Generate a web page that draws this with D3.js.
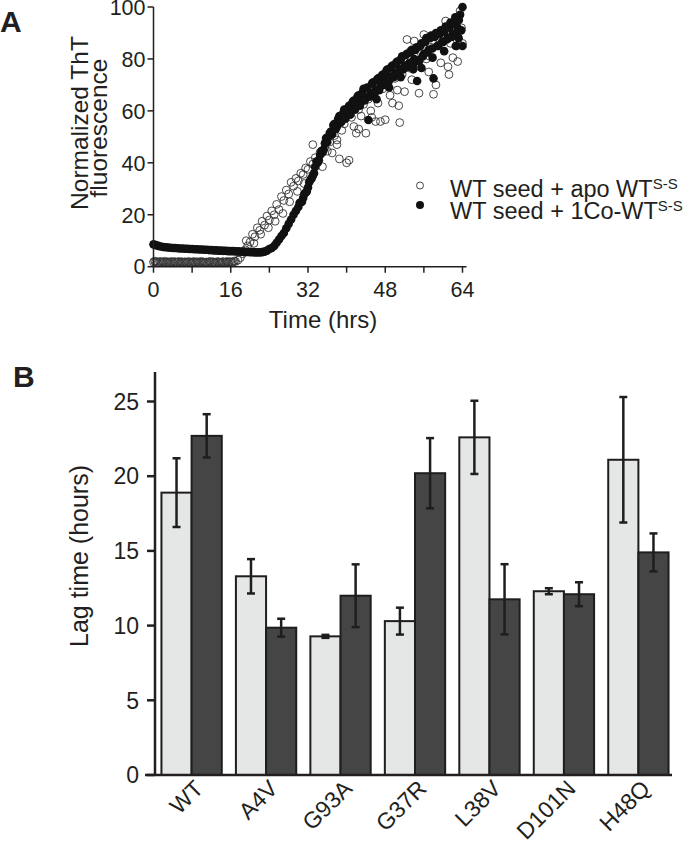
<!DOCTYPE html>
<html><head><meta charset="utf-8">
<script src="https://cdn.jsdelivr.net/npm/d3@7"></script>
<style>
body{margin:0;background:#fff;}
svg text{font-family:"Liberation Sans",Arial,Helvetica,sans-serif;fill:#231f20;}
</style></head>
<body><svg id="c" width="693" height="855"></svg>
<script>
// ---------- Panel A data: [time (hrs), normalized ThT] ----------
const apoSeries = [
[0,1.8],[0.5,2.0],[1,1.7],[1.5,1.9],[2,1.8],[2.5,1.6],[3,1.9],[3.5,1.8],[4,1.7],[4.5,1.9],[5,1.8],[5.5,1.6],[6,1.8],[6.5,1.9],[7,1.7],[7.5,1.8],[8,1.6],[8.5,1.8],[9,1.9],[9.5,1.7],[10,1.8],[10.5,1.6],[11,1.8],[11.5,1.9],[12,1.7],[12.5,1.8],[13,1.6],[13.5,1.8],[14,1.7],[14.5,1.9],[15,1.8],[15.5,1.7],[16,1.9],[16.5,1.8],[17,2.0],
[0.25,2.1],[0.75,1.6],[1.25,2.0],[1.75,1.7],[2.25,2.1],[2.75,1.8],[3.25,1.6],[3.75,2.0],[4.25,1.9],[4.75,1.6],[5.25,2.0],[5.75,1.9],[6.25,1.6],[6.75,1.7],[7.25,2.0],[7.75,1.6],[8.25,2.0],[8.75,1.7],[9.25,1.6],[9.75,2.0],[10.25,1.9],[10.75,1.7],[11.25,1.6],[11.75,2.0],[12.25,1.9],[12.75,1.6],[13.25,2.0],[13.75,1.7],[14.25,1.9],[14.75,1.6],[15.25,2.0],[15.75,1.9],[16.25,1.7],[16.75,2.2],
[17.5,2.5],[18,3.5],[18.5,5.0],[19,6.5],[19.5,8.0],[20,9.5],[20.5,12.5],[21,11.5],[21.5,15.0],[22,14.0],[22.5,17.5],[23,16.0],[23.5,19.5],[24,18.0],[24.5,21.5],[25,20.0],[25.5,24.0],[26,22.0],[26.5,27.0],[27,25.5],[27.5,29.5],[28,28.0],[28.5,32.5],[29,31.0],[29.5,34.0],[30,33.0],[30.5,36.0],[31,35.5],[31.5,38.0],[32,37.5],[32.5,40.5],[33,39.5],[33.5,42.0],[34,40.5],[34.5,44.0],[35,38.5],[35.5,46.0],[36,44.5],[36.5,48.0],[37,43.8],[37.5,50.5],[38,48.8],[38.5,41.5],[39,52.5],[39.5,55.0],[40,40.0],[40.5,41.0],[41,57.5],[41.5,54.0],[42,51.4],[42.5,60.5],[43,58.0],[43.5,62.5],[44,51.4],[44.5,64.5],[45,60.0],[45.5,66.5],[46,55.9],[46.5,63.0],[47,55.9],[47.5,68.5],[48,56.6],[48.5,70.5],[49,66.0],[49.5,63.0],[50,72.5],[50.5,68.0],[51,55.5],[51.5,74.0],[52,67.4],[52.5,87.5],[53,76.5],[53.5,72.0],[54,86.9],[54.5,78.5],[55,66.8],[55.5,82.0],[56,89.4],[56.5,80.0],[57,75.0],[57.5,84.5],[58,66.4],[58.5,70.0],[59,88.0],[59.5,78.5],[60,91.0],[60.5,94.6],[61,77.0],[61.5,86.0],[62,80.5],[62.5,92.5],[63,79.0],[63.5,98.5],[64,86.0],
[19.2,10.0],[20.8,9.0],[22.2,12.5],[23.8,15.0],[25.2,17.5],[26.8,20.5],[28.2,25.0],[29.8,29.0],[31.2,32.0],
[33,47.0],[38,47.0],[42.5,53.0],[45.2,57.5],[50.8,62.0],[53.2,83.0],[57.2,81.0],[61.2,74.0],[62.8,85.0],[63.8,92.0]
];
const coSeries = [
[0,8.6],[0.5,8.3],[1,8.0],[1.5,7.8],[2,7.6],[2.5,7.5],[3,7.4],[3.5,7.3],[4,7.2],[4.5,7.2],[5,7.1],[5.5,7.0],[6,7.0],[6.5,6.9],[7,6.9],[7.5,6.8],[8,6.8],[8.5,6.7],[9,6.7],[9.5,6.6],[10,6.6],[10.5,6.5],[11,6.5],[11.5,6.4],[12,6.4],[12.5,6.3],[13,6.3],[13.5,6.2],[14,6.2],[14.5,6.1],[15,6.1],[15.5,6.0],[16,6.0],
[16.5,6.0],[17,5.9],[17.5,5.9],[18,5.8],[18.5,5.8],[19,5.7],[19.5,5.7],[20,5.6],[20.5,5.6],[21,5.5],[21.5,5.5],[22,5.5],[22.5,5.6],[23,5.8],[23.5,6.2],[24,6.8],
[24.5,7.2],[25,8.0],[25.5,9.2],[26,10.5],[26.5,11.8],[27,13.0],[27.5,14.8],[28,16.5],[28.5,18.2],[29,20.0],[29.5,21.5],[30,23.0],[30.5,24.8],[31,26.5],[31.5,28.5],[32,30.5],[32.5,33.5],[33,35.0],[33.5,38.5],[34,40.0],[34.5,43.0],[35,44.0],[35.5,47.5],[36,48.0],[36.5,51.5],[37,51.0],[37.5,55.0],[38,54.0],[38.5,58.0],[39,56.0],[39.5,60.5],[40,58.0],[40.5,62.0],[41,60.0],[41.5,64.0],[42,61.5],[42.5,66.0],[43,63.5],[43.5,68.5],[44,65.0],[44.5,56.5],[45,67.0],[45.5,71.0],[46,68.0],[46.5,72.5],[47,69.5],[47.5,74.0],[48,71.5],[48.5,76.0],[49,73.0],[49.5,77.5],[50,74.5],[50.5,79.0],[51,76.0],[51.5,81.0],[52,77.5],[52.5,82.0],[53,78.5],[53.5,83.5],[54,80.0],[54.5,84.5],[55,79.0],[55.5,86.0],[56,82.0],[56.5,88.0],[57,83.5],[57.5,89.0],[58,72.5],[58.5,90.0],[59,85.0],[59.5,91.0],[60,86.5],[60.5,92.5],[61,88.0],[61.5,94.0],[62,89.5],[62.5,96.0],[63,92.0],[63.5,97.0],[64,100.0],
[30.25,24.5],[30.75,25.0],[31.25,28.0],[31.75,29.0],[32.25,32.5],[32.75,34.0],[33.25,36.0],[33.75,40.5],[34.25,41.0],[34.75,44.5],[35.25,45.0],[35.75,49.5],[36.25,50.0],[36.75,52.0],[37.25,54.5],[37.75,53.0],[38.25,57.0],[38.75,55.5],[39.25,59.0],[39.75,57.0],[40.25,61.0],[40.75,58.5],[41.25,63.5],[41.75,60.5],[42.25,65.5],[42.75,62.0],[43.25,67.0],[43.75,64.0],[44.25,69.0],[44.75,65.5],[45.25,70.5],[45.75,66.5],[46.25,72.0],[46.75,68.0],[47.25,73.5],[47.75,70.0],[48.25,75.5],[48.75,71.5],[49.25,77.0],[49.75,73.0],[50.25,78.5],[50.75,74.5],[51.25,80.0],[51.75,76.0],[52.25,81.5],[52.75,77.0],[53.25,82.5],[53.75,78.0],[54.25,83.5],[54.75,79.5],[55.25,85.0],[55.75,81.0],[56.25,86.5],[56.75,82.5],[57.25,88.0],[57.75,84.0],[58.25,88.5],[58.75,85.0],[59.25,89.5],[59.75,86.5],[60.25,90.5],[60.75,87.5],[61.25,92.0],[61.75,88.5],[62.25,93.5],[62.75,90.0],[63.25,95.0],[63.75,91.0],
[46.2,64.5],[48.8,69.0],[51.2,73.0],[53.8,76.0],[54.6,71.5],[55.5,76.5],[57.8,80.5],[60.2,83.0],[62.6,85.0],[63.2,88.0],[64,85.0]
];
const xTicksA = [0,16,32,48,64];
const xMinorA = [8,24,40,56];
const yTicksA = [0,20,40,60,80,100];

// ---------- Panel B data ----------
const mutants = ["WT","A4V","G93A","G37R","L38V","D101N","H48Q"];
const apoLag = [18.9,13.3,9.28,10.3,22.6,12.3,21.1];
const apoErr = [2.3,1.15,0.1,0.9,2.45,0.2,4.2];
const coLag = [22.7,9.86,12.0,20.2,11.76,12.1,14.9];
const coErr = [1.45,0.6,2.1,2.35,2.35,0.8,1.27];
const yTicksB = [0,5,10,15,20,25];

const svg = d3.select("#c");
const ink = "#231f20";

// ================= Panel A =================
const xA = d3.scaleLinear().domain([0,64]).range([153.5,462.5]);
const yA = d3.scaleLinear().domain([0,100]).range([266.7,7]);

const gA = svg.append("g");
gA.append("g").selectAll("circle").data(apoSeries).join("circle")
  .attr("cx",d=>xA(d[0])).attr("cy",d=>yA(d[1])).attr("r",3.9)
  .attr("fill","none").attr("stroke","#333").attr("stroke-width",0.9);
gA.append("g").selectAll("circle").data(coSeries).join("circle")
  .attr("cx",d=>xA(d[0])).attr("cy",d=>yA(d[1])).attr("r",4.3)
  .attr("fill","#111").attr("stroke","none");

const axA = gA.append("g").attr("stroke",ink).attr("stroke-width",1.5).attr("fill","none");
axA.append("line").attr("x1",xA(0)).attr("x2",xA(0)).attr("y1",yA(100)).attr("y2",yA(0));
axA.append("line").attr("x1",xA(0)).attr("x2",xA(64)+4).attr("y1",yA(0)).attr("y2",yA(0));
yTicksA.forEach(v=>{
  axA.append("line").attr("x1",xA(0)-6).attr("x2",xA(0)).attr("y1",yA(v)).attr("y2",yA(v));
});
xTicksA.concat(xMinorA).forEach(v=>{
  axA.append("line").attr("x1",xA(v)).attr("x2",xA(v)).attr("y1",yA(0)).attr("y2",yA(0)+6);
});
gA.selectAll("text.yt").data(yTicksA).join("text").attr("class","yt")
  .attr("x",xA(0)-8).attr("y",d=>yA(d)).attr("dy","0.36em")
  .attr("text-anchor","end").attr("font-size",21.5).text(d=>d);
gA.selectAll("text.xt").data(xTicksA).join("text").attr("class","xt")
  .attr("x",d=>xA(d)).attr("y",297)
  .attr("text-anchor","middle").attr("font-size",21.5).text(d=>d);
gA.append("text").attr("x",323).attr("y",328).attr("text-anchor","middle")
  .attr("font-size",24).text("Time (hrs)");
gA.append("text").attr("transform","translate(88,123) rotate(-90)")
  .attr("text-anchor","middle").attr("font-size",24.5).text("Normalized ThT");
gA.append("text").attr("transform","translate(107,128) rotate(-90)")
  .attr("text-anchor","middle").attr("font-size",24.5).text("fluorescence");

// legend
gA.append("circle").attr("cx",420).attr("cy",185.5).attr("r",3.5)
  .attr("fill","none").attr("stroke","#333").attr("stroke-width",0.9);
gA.append("circle").attr("cx",420).attr("cy",205).attr("r",4)
  .attr("fill","#111");
const l1 = gA.append("text").attr("x",450).attr("y",196.5).attr("font-size",23.5);
l1.append("tspan").text("WT seed + apo WT");
l1.append("tspan").attr("font-size",15).attr("dy",-8).text("S-S");
const l2 = gA.append("text").attr("x",450).attr("y",219).attr("font-size",23.5);
l2.append("tspan").text("WT seed + 1Co-WT");
l2.append("tspan").attr("font-size",15).attr("dy",-8).text("S-S");

svg.append("text").attr("x",0).attr("y",32).attr("font-size",30).attr("font-weight","bold").text("A");

// ================= Panel B =================
const yB = d3.scaleLinear().domain([0,25]).range([775,401.5]);
const xB = d3.scaleBand().domain(mutants).range([154,676]).paddingInner(0.19).paddingOuter(0.1);
const sub = d3.scaleBand().domain(["apo","co"]).range([0,xB.bandwidth()]);
const barsData = mutants.flatMap((m,i)=>[
  {m, k:"apo", v:apoLag[i], e:apoErr[i]},
  {m, k:"co", v:coLag[i], e:coErr[i]}
]);
const gB = svg.append("g");
gB.selectAll("rect").data(barsData).join("rect")
  .attr("x",d=>xB(d.m)+sub(d.k)).attr("width",sub.bandwidth())
  .attr("y",d=>yB(d.v)).attr("height",d=>yB(0)-yB(d.v))
  .attr("fill",d=>d.k==="apo"?"#e5e6e6":"#454545")
  .attr("stroke","#1e1e1e").attr("stroke-width",2);
const eb = gB.append("g").attr("stroke","#1e1e1e").attr("stroke-width",2.5);
barsData.forEach(d=>{
  const cx = xB(d.m)+sub(d.k)+sub.bandwidth()/2;
  eb.append("line").attr("x1",cx).attr("x2",cx).attr("y1",yB(d.v+d.e)).attr("y2",yB(d.v-d.e));
  eb.append("line").attr("x1",cx-4).attr("x2",cx+4).attr("y1",yB(d.v+d.e)).attr("y2",yB(d.v+d.e));
  eb.append("line").attr("x1",cx-4).attr("x2",cx+4).attr("y1",yB(d.v-d.e)).attr("y2",yB(d.v-d.e));
});
const axB = gB.append("g").attr("stroke",ink).attr("stroke-width",2.5);
axB.append("line").attr("x1",155).attr("x2",155).attr("y1",372).attr("y2",775);
axB.append("line").attr("x1",145).attr("x2",672).attr("y1",775).attr("y2",775);
yTicksB.forEach(v=>{
  axB.append("line").attr("x1",147).attr("x2",155).attr("y1",yB(v)).attr("y2",yB(v));
});
gB.selectAll("text.yt").data(yTicksB).join("text").attr("class","yt")
  .attr("x",139).attr("y",d=>yB(d)).attr("dy","0.36em")
  .attr("text-anchor","end").attr("font-size",23).text(d=>d);
gB.selectAll("text.xt").data(mutants).join("text").attr("class","xt")
  .attr("transform",d=>`translate(${xB(d)+xB.bandwidth()/2+13},790) rotate(-45)`)
  .attr("text-anchor","end").attr("font-size",23).text(d=>d);
gB.append("text").attr("transform","translate(88,556) rotate(-90)")
  .attr("text-anchor","middle").attr("font-size",25).text("Lag time (hours)");
svg.append("text").attr("x",13).attr("y",387).attr("font-size",30).attr("font-weight","bold").text("B");
</script></body></html>
